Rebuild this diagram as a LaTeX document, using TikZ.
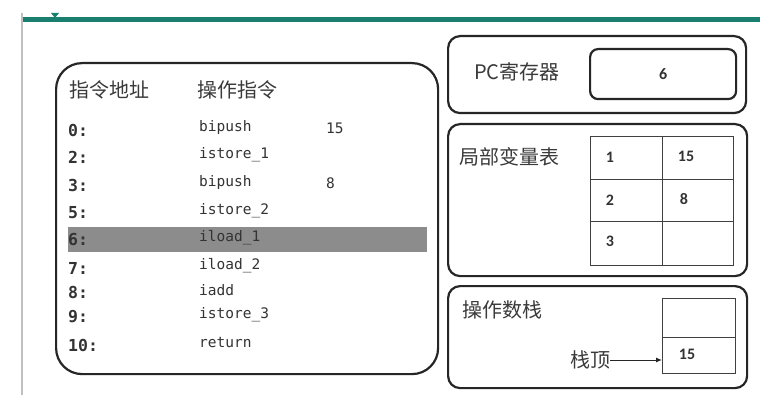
\documentclass[tikz,border=0pt]{standalone}
\usepackage{fontspec}
\setmainfont{Carlito}
\newfontfamily\cjk{Noto Sans CJK SC}
\newfontfamily\code{DejaVu Sans Mono}
\usetikzlibrary{arrows.meta}
\definecolor{teal1}{HTML}{1A7F6E}
\definecolor{txt}{HTML}{3A3A3A}
\definecolor{hl}{HTML}{8C8C8C}
\tikzset{
  frame/.style={draw=black!85, line width=2.2pt, rounded corners=12pt},
  cell/.style={draw=black!75, line width=1pt},
  zh/.style={font=\cjk\fontsize{20}{22}\selectfont, text=txt, inner sep=0pt, anchor=west},
  addr/.style={font=\code\bfseries\fontsize{16.5}{18}\selectfont, text=black!80, inner sep=0pt, anchor=west},
  ins/.style={font=\code\fontsize{14.5}{16}\selectfont, text=black!80, inner sep=0pt, anchor=west},
  num/.style={font=\bfseries\fontsize{16}{18}\selectfont, text=black!80, inner sep=0pt}
}
\begin{document}
\begin{tikzpicture}[x=1pt,y=-1pt]
\useasboundingbox (0,0) rectangle (778,403);
\fill[white] (0,0) rectangle (778,403);
% window frame
\draw[black!25, line width=1.5pt] (22,13) -- (22,395);
\draw[teal1, line width=5pt] (23,19.5) -- (760,19.5);
\fill[teal1] (51,13) -- (59,13) -- (55,18) -- cycle;
% left program box
\node[frame, rounded corners=26pt, minimum width=382pt, minimum height=311pt, anchor=north west] (prog) at (55,62) {};
\node[zh] (h1) at (69,90) {指令地址};
\node[zh] (h2) at (197,90) {操作指令};
\fill[hl] (68,227) rectangle (427,252);
\foreach \y/\a/\i/\v [count=\k] in {130/0:/bipush/15, 157/2:/istore\_1/, 185/3:/bipush/8, 213/5:/istore\_2/, 240/6:/iload\_1/, 268/7:/iload\_2/, 292/8:/iadd/, 317/9:/istore\_3/, 345/10:/return/}{
  \node[addr] (a\k) at (68,\y) {\a};
  \node[ins] (i\k) at (199,\y-2) {\i};
  \node[ins] (v\k) at (326,\y-2) {\v};
}
% PC register
\node[frame, minimum width=298pt, minimum height=77pt, anchor=north west] (pcbox) at (447,35) {};
\node[zh, anchor=center] (pclabel) at (517,72) {PC寄存器};
\node[frame, rounded corners=8pt, minimum width=146pt, minimum height=50pt, anchor=north west] (pcval) at (589,48) {};
\node[num] (pcv) at (pcval.center) {6};
% local variable table
\node[frame, minimum width=299pt, minimum height=152pt, anchor=north west] (lvbox) at (447,123) {};
\node[zh] (lvlabel) at (459,157) {局部变量表};
\draw[cell] (590,137) rectangle (733,265);
\draw[cell] (662,137) -- (662,265);
\draw[cell] (590,180) -- (733,180);
\draw[cell] (590,222) -- (733,222);
\node[num] (l1) at (610,157) {1};
\node[num] (l2) at (610,200) {2};
\node[num] (l3) at (610,241) {3};
\node[num] (v1) at (686,156) {15};
\node[num] (v2) at (684,199) {8};
% operand stack
\node[frame, minimum width=299pt, minimum height=102pt, anchor=north west] (osbox) at (447,285) {};
\node[zh] (oslabel) at (462,310) {操作数栈};
\draw[cell] (662,298) rectangle (735,373);
\draw[cell] (662,337) -- (735,337);
\node[num] (s1) at (687,354) {15};
\node[zh] (top) at (570,360) {栈顶};
\coordinate (cellL) at (662,360);
\draw[-{Latex[length=6pt,width=5pt]}, line width=1pt, black!85] (top.east) -- (cellL);
\end{tikzpicture}
\end{document}
